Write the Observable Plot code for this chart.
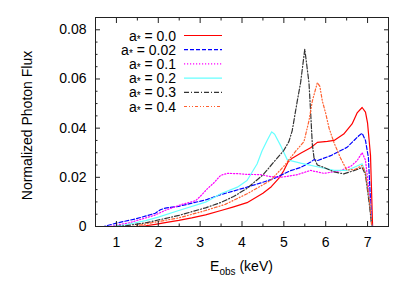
<!DOCTYPE html>
<html><head><meta charset="utf-8">
<script src="https://cdn.jsdelivr.net/npm/d3@7"></script>
<script src="https://cdn.jsdelivr.net/npm/@observablehq/plot@0.6"></script>
<style>
html,body{margin:0;padding:0;background:#fff;}
#chart svg{display:block;}
</style></head><body><div id="chart"></div>
<script>
// spin values a*
const spinLabels = ["0.0", "0.02", "0.1", "0.2", "0.3", "0.4"];

// a* = 0.0
const e0 = [0.5, 1.5, 1.7, 1.93, 2.2, 2.49, 2.8, 3.13, 3.5, 3.8, 4.12, 4.5, 4.7, 4.9, 5.0, 5.1, 5.2, 5.4, 5.64, 5.8, 6.04, 6.2, 6.43, 6.63, 6.75, 6.87, 6.95, 7.0, 7.07, 7.12, 7.5];
const f0 = [0, 0, 0.0003, 0.0009, 0.0017, 0.0025, 0.0035, 0.0047, 0.0065, 0.008, 0.0097, 0.0135, 0.0162, 0.02, 0.0228, 0.0262, 0.0278, 0.0298, 0.032, 0.0342, 0.0346, 0.035, 0.0376, 0.0417, 0.0462, 0.0484, 0.0465, 0.042, 0.029, 0, 0];
// a* = 0.02
const e1 = [0.5, 0.7, 0.98, 1.46, 1.93, 2.05, 2.17, 2.49, 2.73, 3.13, 3.5, 4.12, 4.5, 4.76, 5.16, 5.4, 5.64, 5.72, 5.8, 6.12, 6.51, 6.79, 6.87, 6.95, 7.02, 7.1, 7.5];
const f1 = [0, 0, 0.0013, 0.0031, 0.0054, 0.0068, 0.0075, 0.0082, 0.0092, 0.0108, 0.013, 0.016, 0.018, 0.0195, 0.0227, 0.024, 0.0262, 0.0272, 0.0268, 0.0288, 0.0322, 0.0369, 0.0379, 0.035, 0.028, 0, 0];
// a* = 0.1
const e2 = [0.5, 0.85, 1.3, 1.9, 2.17, 2.53, 2.89, 3.0, 3.17, 3.33, 3.49, 3.65, 3.9, 4.12, 4.44, 4.68, 4.92, 5.3, 5.64, 5.96, 6.35, 6.6, 6.75, 6.87, 6.95, 7.05, 7.1, 7.5];
const f2 = [0, 0, 0.0015, 0.0045, 0.0066, 0.0088, 0.0105, 0.0122, 0.0153, 0.0178, 0.0208, 0.0216, 0.0215, 0.0212, 0.0211, 0.0203, 0.02, 0.021, 0.0228, 0.0216, 0.0227, 0.0245, 0.0268, 0.03, 0.027, 0.012, 0, 0];
// a* = 0.2
const e3 = [0.5, 0.9, 1.22, 1.7, 2.0, 2.49, 3.13, 3.49, 3.89, 4.12, 4.36, 4.48, 4.6, 4.71, 4.78, 4.92, 5.08, 5.16, 5.4, 5.88, 6.2, 6.5, 6.67, 6.87, 6.95, 7.05, 7.1, 7.5];
const f3 = [0, 0, 0.0007, 0.0024, 0.0038, 0.0065, 0.0099, 0.0133, 0.016, 0.0187, 0.0254, 0.0308, 0.035, 0.0385, 0.0375, 0.033, 0.0272, 0.0268, 0.0258, 0.024, 0.0228, 0.0228, 0.024, 0.0255, 0.022, 0.01, 0, 0];
// a* = 0.3
const e4 = [0.5, 1.0, 1.22, 1.7, 2.49, 3.13, 3.5, 3.8, 4.12, 4.5, 4.8, 5.0, 5.12, 5.2, 5.32, 5.4, 5.5, 5.6, 5.64, 5.68, 5.72, 5.8, 5.96, 6.2, 6.43, 6.67, 6.87, 6.95, 7.05, 7.1, 7.5];
const f4 = [0, 0, 0.0003, 0.0015, 0.0045, 0.0076, 0.0098, 0.0122, 0.0155, 0.021, 0.027, 0.031, 0.0345, 0.039, 0.051, 0.0585, 0.0721, 0.0585, 0.0464, 0.0335, 0.028, 0.025, 0.024, 0.0222, 0.0214, 0.0227, 0.024, 0.021, 0.008, 0, 0];
// a* = 0.4
const e5 = [0.5, 1.4, 1.93, 2.49, 3.13, 3.6, 4.12, 4.68, 5.0, 5.16, 5.3, 5.48, 5.6, 5.68, 5.8, 5.86, 5.92, 6.0, 6.08, 6.2, 6.35, 6.5, 6.7, 6.87, 6.95, 7.05, 7.1, 7.5];
const f5 = [0, 0, 0.0018, 0.0035, 0.0065, 0.009, 0.0133, 0.0187, 0.0245, 0.028, 0.031, 0.0345, 0.043, 0.051, 0.0585, 0.057, 0.051, 0.046, 0.04, 0.034, 0.028, 0.023, 0.0232, 0.0248, 0.022, 0.01, 0, 0];

const xTicks = [1, 2, 3, 4, 5, 6, 7];
const xMinorTicks = [0.5, 1.5, 2.5, 3.5, 4.5, 5.5, 6.5, 7.5];
const yTicks = [0, 0.02, 0.04, 0.06, 0.08];
const yMinorTicks = [0.005, 0.01, 0.015, 0.025, 0.03, 0.035, 0.045, 0.05, 0.055, 0.065, 0.07, 0.075];

// styles
const colors = ["#ff0000", "#0000ff", "#ff00ff", "#66ffff", "#333333", "#ff6030"];
const dashes = ["none", "4,2", "1.2,1.8", "none", "5,2,1,2", "3,2,1,2,1,2"];

const allE = [e0, e1, e2, e3, e4, e5];
const allF = [f0, f1, f2, f3, f4, f5];
const tables = allE.map((es, i) => es.map((e, j) => ({E: e, F: allF[i][j]})));

const font = "'Liberation Sans', Arial, Helvetica, sans-serif";
const fmtY = d => d === 0 ? "0" : d.toFixed(2);

const plot = Plot.plot({
  width: 409,
  height: 286,
  marginLeft: 95,
  marginRight: 21,
  marginTop: 17,
  marginBottom: 60,
  style: {fontFamily: font, fontSize: "14px", color: "black", background: "white"},
  x: {domain: [0.5, 7.5]},
  y: {domain: [0, 0.085]},
  marks: [
    ...tables.map((t, i) => Plot.line(t, {x: "E", y: "F", stroke: colors[i], strokeWidth: 1.2, strokeDasharray: dashes[i]})),
    Plot.frame({stroke: "#222", strokeWidth: 1}),
    Plot.axisX(xTicks, {anchor: "bottom", tickSize: -5, tickPadding: 16, label: null, stroke: "#222"}),
    Plot.axisX(xMinorTicks, {anchor: "bottom", tickSize: -2.5, tickFormat: () => "", label: null, stroke: "#222"}),
    Plot.axisX(xTicks, {anchor: "top", tickSize: -5, tickFormat: () => "", label: null, stroke: "#222"}),
    Plot.axisX(xMinorTicks, {anchor: "top", tickSize: -2.5, tickFormat: () => "", label: null, stroke: "#222"}),
    Plot.axisY(yTicks, {anchor: "left", tickSize: -5, tickPadding: 14, tickFormat: fmtY, label: null, stroke: "#222"}),
    Plot.axisY(yMinorTicks, {anchor: "left", tickSize: -2.5, tickFormat: () => "", label: null, stroke: "#222"}),
    Plot.axisY(yTicks, {anchor: "right", tickSize: -5, tickFormat: () => "", label: null, stroke: "#222"}),
    Plot.axisY(yMinorTicks, {anchor: "right", tickSize: -2.5, tickFormat: () => "", label: null, stroke: "#222"})
  ]
});

const svg = d3.select(plot);
const xs = plot.scale("x"), ys = plot.scale("y");
const cx = (xs.range[0] + xs.range[1]) / 2;
const cy = (ys.range[0] + ys.range[1]) / 2;

// x label with subscript
const xl = svg.append("text").attr("x", cx).attr("y", 271).attr("text-anchor", "middle")
  .attr("font-family", font).attr("font-size", 14).attr("fill", "black");
xl.append("tspan").text("E");
xl.append("tspan").attr("font-size", 10).attr("dy", 4).text("obs");
xl.append("tspan").attr("dy", -4).text(" (keV)");

// y label
svg.append("text").attr("transform", `translate(32,${cy + 4}) rotate(-90)`).attr("text-anchor", "middle")
  .attr("font-family", font).attr("font-size", 14).attr("fill", "black").text("Normalized Photon Flux");

// legend
const lg = svg.append("g");
spinLabels.forEach((s, i) => {
  const y = 35.5 + i * 14.2;
  const t = lg.append("text").attr("x", 176).attr("y", y + 5).attr("text-anchor", "end")
    .attr("font-family", font).attr("font-size", 14).attr("fill", "black");
  t.append("tspan").text("a");
  t.append("tspan").attr("font-size", 10).attr("dy", 2).text("*");
  t.append("tspan").attr("dy", -2).text(" = " + s);
  lg.append("line").attr("x1", 184).attr("x2", 222).attr("y1", y).attr("y2", y)
    .attr("stroke", colors[i]).attr("stroke-width", 1.2).attr("stroke-dasharray", dashes[i]);
});

document.getElementById("chart").appendChild(plot);
</script>
</body></html>
